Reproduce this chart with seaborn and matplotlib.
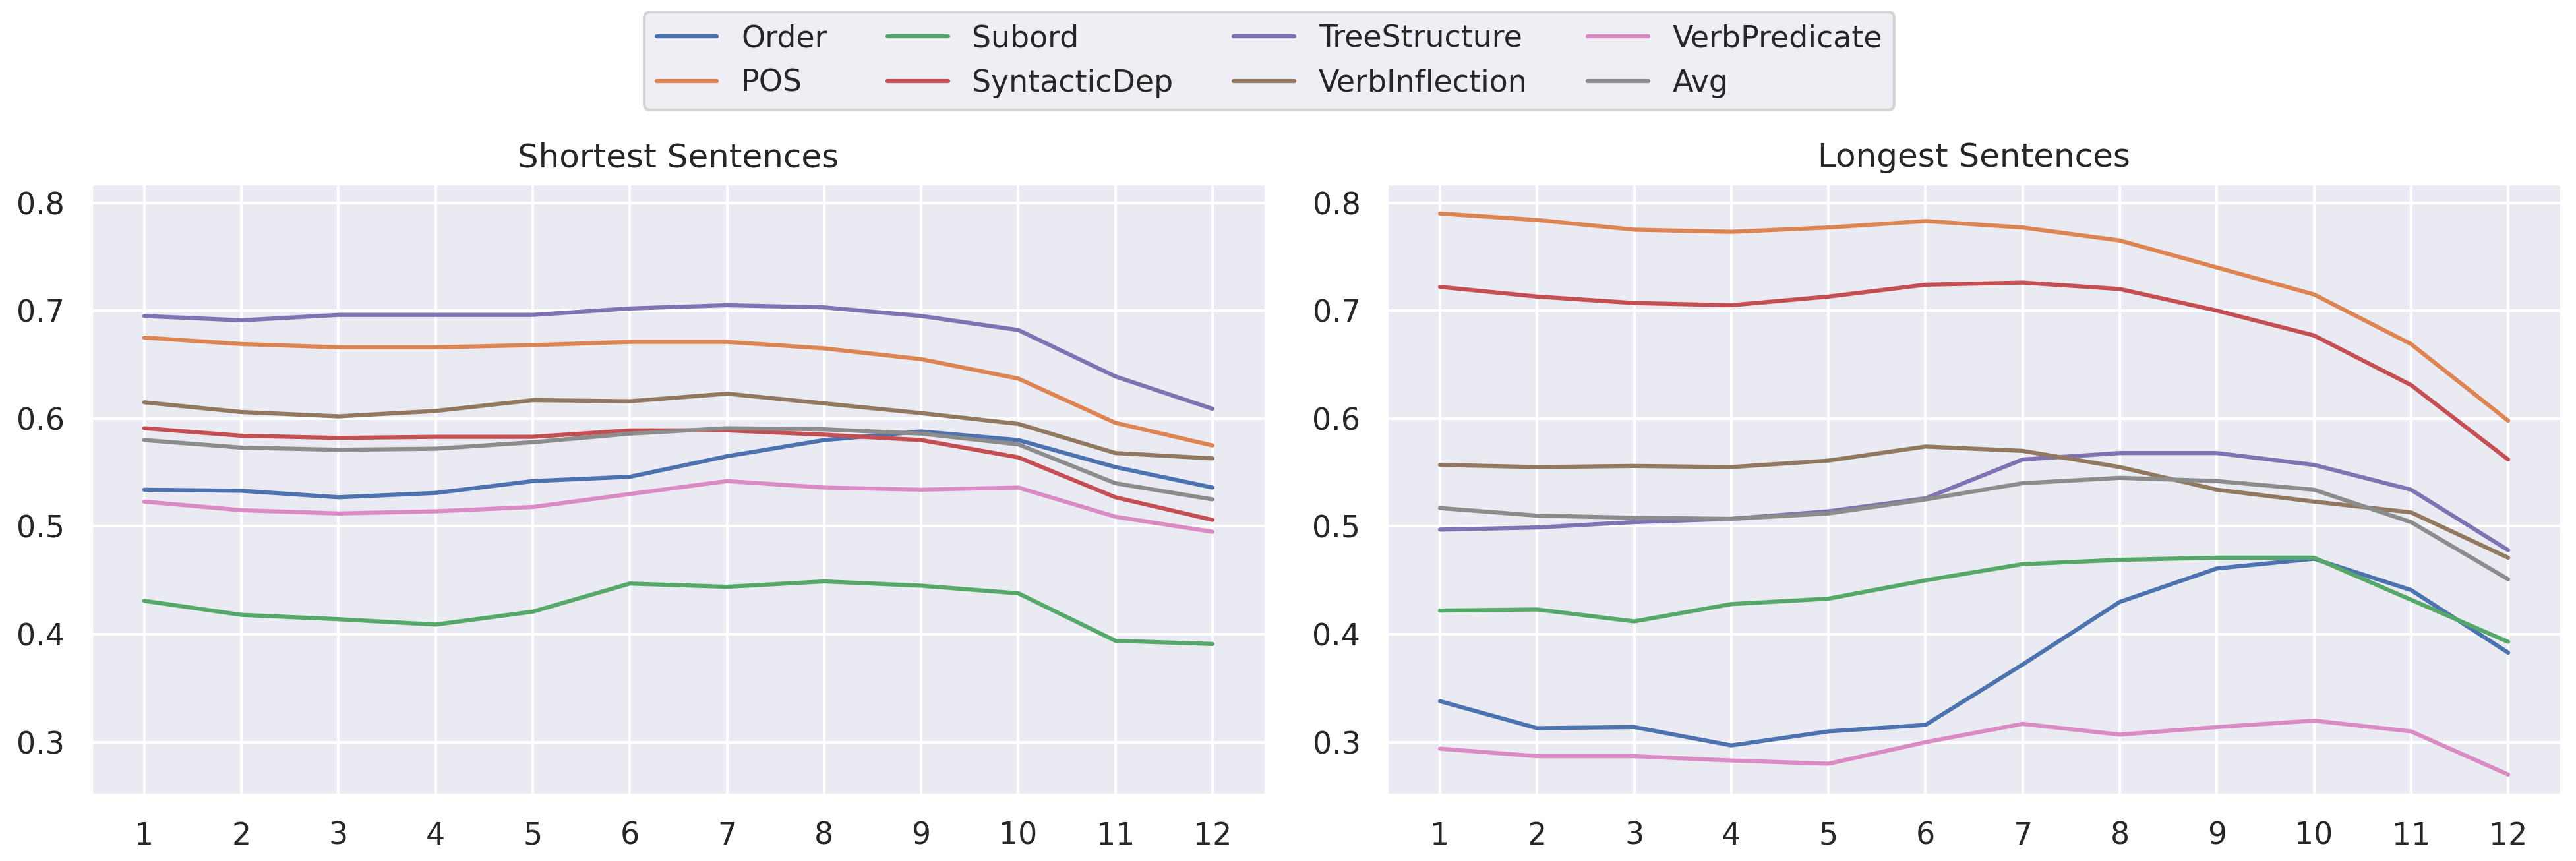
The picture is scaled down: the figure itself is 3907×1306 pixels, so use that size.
import matplotlib
matplotlib.use('Agg')
import matplotlib.pyplot as plt
import seaborn as sns
import pandas as pd

# layers of the model
layers = list(range(1, 13))
probes = ['Order', 'POS', 'Subord', 'SyntacticDep', 'TreeStructure',
          'VerbInflection', 'VerbPredicate', 'Avg']

# shortest sentences
short_order = [0.534, 0.533, 0.527, 0.531, 0.542, 0.546, 0.565, 0.580, 0.588, 0.580, 0.555, 0.536]
short_pos = [0.675, 0.669, 0.666, 0.666, 0.668, 0.671, 0.671, 0.665, 0.655, 0.637, 0.596, 0.575]
short_subord = [0.431, 0.418, 0.414, 0.409, 0.421, 0.447, 0.444, 0.449, 0.445, 0.438, 0.394, 0.391]
short_syndep = [0.591, 0.584, 0.582, 0.583, 0.583, 0.589, 0.589, 0.585, 0.580, 0.564, 0.527, 0.506]
short_tree = [0.695, 0.691, 0.696, 0.696, 0.696, 0.702, 0.705, 0.703, 0.695, 0.682, 0.639, 0.609]
short_verbinf = [0.615, 0.606, 0.602, 0.607, 0.617, 0.616, 0.623, 0.614, 0.605, 0.595, 0.568, 0.563]
short_verbpred = [0.523, 0.515, 0.512, 0.514, 0.518, 0.530, 0.542, 0.536, 0.534, 0.536, 0.509, 0.495]
short_avg = [0.580, 0.573, 0.571, 0.572, 0.578, 0.586, 0.591, 0.590, 0.586, 0.576, 0.540, 0.525]

# longest sentences
long_order = [0.338, 0.313, 0.314, 0.297, 0.310, 0.316, 0.372, 0.430, 0.461, 0.470, 0.441, 0.383]
long_pos = [0.790, 0.784, 0.775, 0.773, 0.777, 0.783, 0.777, 0.765, 0.740, 0.715, 0.669, 0.598]
long_subord = [0.422, 0.423, 0.412, 0.428, 0.433, 0.450, 0.465, 0.469, 0.471, 0.471, 0.432, 0.393]
long_syndep = [0.722, 0.713, 0.707, 0.705, 0.713, 0.724, 0.726, 0.720, 0.700, 0.677, 0.631, 0.562]
long_tree = [0.497, 0.499, 0.504, 0.507, 0.514, 0.526, 0.562, 0.568, 0.568, 0.557, 0.534, 0.478]
long_verbinf = [0.557, 0.555, 0.556, 0.555, 0.561, 0.574, 0.570, 0.555, 0.534, 0.523, 0.513, 0.471]
long_verbpred = [0.294, 0.287, 0.287, 0.283, 0.280, 0.300, 0.317, 0.307, 0.314, 0.320, 0.310, 0.270]
long_avg = [0.517, 0.510, 0.508, 0.507, 0.512, 0.525, 0.540, 0.545, 0.542, 0.534, 0.504, 0.451]

short_vals = [short_order, short_pos, short_subord, short_syndep,
              short_tree, short_verbinf, short_verbpred, short_avg]
long_vals = [long_order, long_pos, long_subord, long_syndep,
             long_tree, long_verbinf, long_verbpred, long_avg]


def to_long(vals):
    rows = []
    for name, v in zip(probes, vals):
        for l, s in zip(layers, v):
            rows.append({'layer': l, 'score': s, 'probe': name})
    return pd.DataFrame(rows)


sns.set_theme(style="darkgrid")

fig, axes = plt.subplots(1, 2, figsize=(3907 / 300, 1306 / 300), dpi=300, sharey=True)
fig.subplots_adjust(left=0.0353, right=0.9944, bottom=0.0766, top=0.7871, wspace=0.1027)

for ax, vals, title in zip(axes, [short_vals, long_vals],
                           ['Shortest Sentences', 'Longest Sentences']):
    sns.lineplot(data=to_long(vals), x='layer', y='score', hue='probe',
                 hue_order=probes, ax=ax)
    ax.set_title(title)
    ax.set_xlabel('')
    ax.set_ylabel('')
    ax.set_xticks(layers)
    ax.yaxis.set_tick_params(labelleft=True)
axes[0].set_ylim(0.251, 0.818)

handles, labels = axes[0].get_legend_handles_labels()
for ax in axes:
    ax.get_legend().remove()
fig.legend(handles, labels, loc='upper center', ncol=4, bbox_to_anchor=(0.4928, 1.004))

fig.savefig('out.png', dpi=300)
